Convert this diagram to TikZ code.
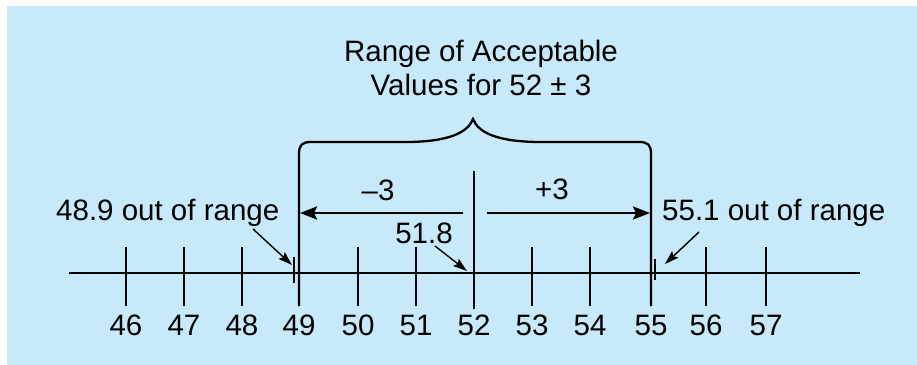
\documentclass[tikz,border=0pt]{standalone}
\usepackage{fontspec}
\setmainfont{Liberation Sans}
\usetikzlibrary{arrows.meta}
\definecolor{bg}{RGB}{199,233,249}
\begin{document}
\begin{tikzpicture}[x=1pt,y=-1pt,
  axisline/.style={line width=2.6pt},
  braceline/.style={line width=2.3pt},
  thintick/.style={line width=1.3pt},
  lbl/.style={font=\fontsize{29.5}{34}\selectfont, inner sep=0pt},
  bigarrow/.style={line width=2.5pt, -{Stealth[length=17pt,width=13pt,inset=3pt]}},
  smallarrow/.style={line width=1.4pt, -{Stealth[length=14pt,width=9pt,inset=2.5pt]}},
]
\useasboundingbox (0,0) rectangle (917,364);
\fill[bg] (7,6) rectangle (925,372);

% axis
\coordinate (axL) at (69,273);
\coordinate (axR) at (860,273);
\draw[axisline] (axL) -- (axR);

% regular ticks and labels
\foreach \n/\x in {46/126,47/184,48/242,49/299,50/358,51/416,52/474,53/532,54/590,55/651,56/706,57/766}{
  \coordinate (tb\n) at (\x,306);
  \node[lbl, anchor=base] (lab\n) at (\x,335) {\n};
}
\foreach \n/\x in {46/126,47/184,48/242,50/358,51/416,53/532,54/590,56/706,57/766}{
  \coordinate (tt\n) at (\x,247);
  \draw[axisline] (tt\n) -- (tb\n);
}
% centre tick 52
\coordinate (tt52) at (474,171);
\coordinate (tbb52) at (474,309);
\draw[axisline] (tt52) -- (tbb52);

% brace with legs at 49 and 55
\draw[braceline] (tb49) -- (299,154) .. controls (299,145) and (302,142) .. (311,142)
  -- (405,142) .. controls (450,142) and (468,132) .. (473,119)
  .. controls (478,132) and (496,142) .. (541,142)
  -- (639,142) .. controls (648,142) and (651,145) .. (651,154) -- (tb55);

% title
\node[lbl, anchor=base] (title1) at (481,61) {Range of Acceptable};
\node[lbl, anchor=base] (title2) at (481,95) {Values for 52 ± 3};

% -3 and +3 arrows
\coordinate (ls) at (463,213);
\coordinate (le) at (300,213);
\coordinate (rs) at (487,213);
\coordinate (re) at (650,213);
\draw[bigarrow] (ls) -- (le);
\draw[bigarrow] (rs) -- (re);
\node[lbl] (m3) at (378,190) {–3};
\node[lbl] (p3) at (552,189) {+3};

% 51.8
\node[lbl] (n518) at (424,233) {51.8};
\coordinate (p518) at (467,271);
\draw[smallarrow] (435,246) -- (p518);

% out of range marks
\coordinate (o489t) at (294,257);
\coordinate (o489b) at (294,283);
\draw[thintick] (o489t) -- (o489b);
\coordinate (o551t) at (655,259);
\coordinate (o551b) at (655,280);
\draw[thintick] (o551t) -- (o551b);

\node[lbl, anchor=base west] (n489) at (56,220) {48.9 out of range};
\node[lbl, anchor=base west] (n551) at (662,220) {55.1 out of range};
\coordinate (a489) at (292,265);
\coordinate (a551) at (665,264);
\draw[smallarrow] (253,229) -- (a489);
\draw[smallarrow] (699,232) -- (a551);
\end{tikzpicture}
\end{document}
